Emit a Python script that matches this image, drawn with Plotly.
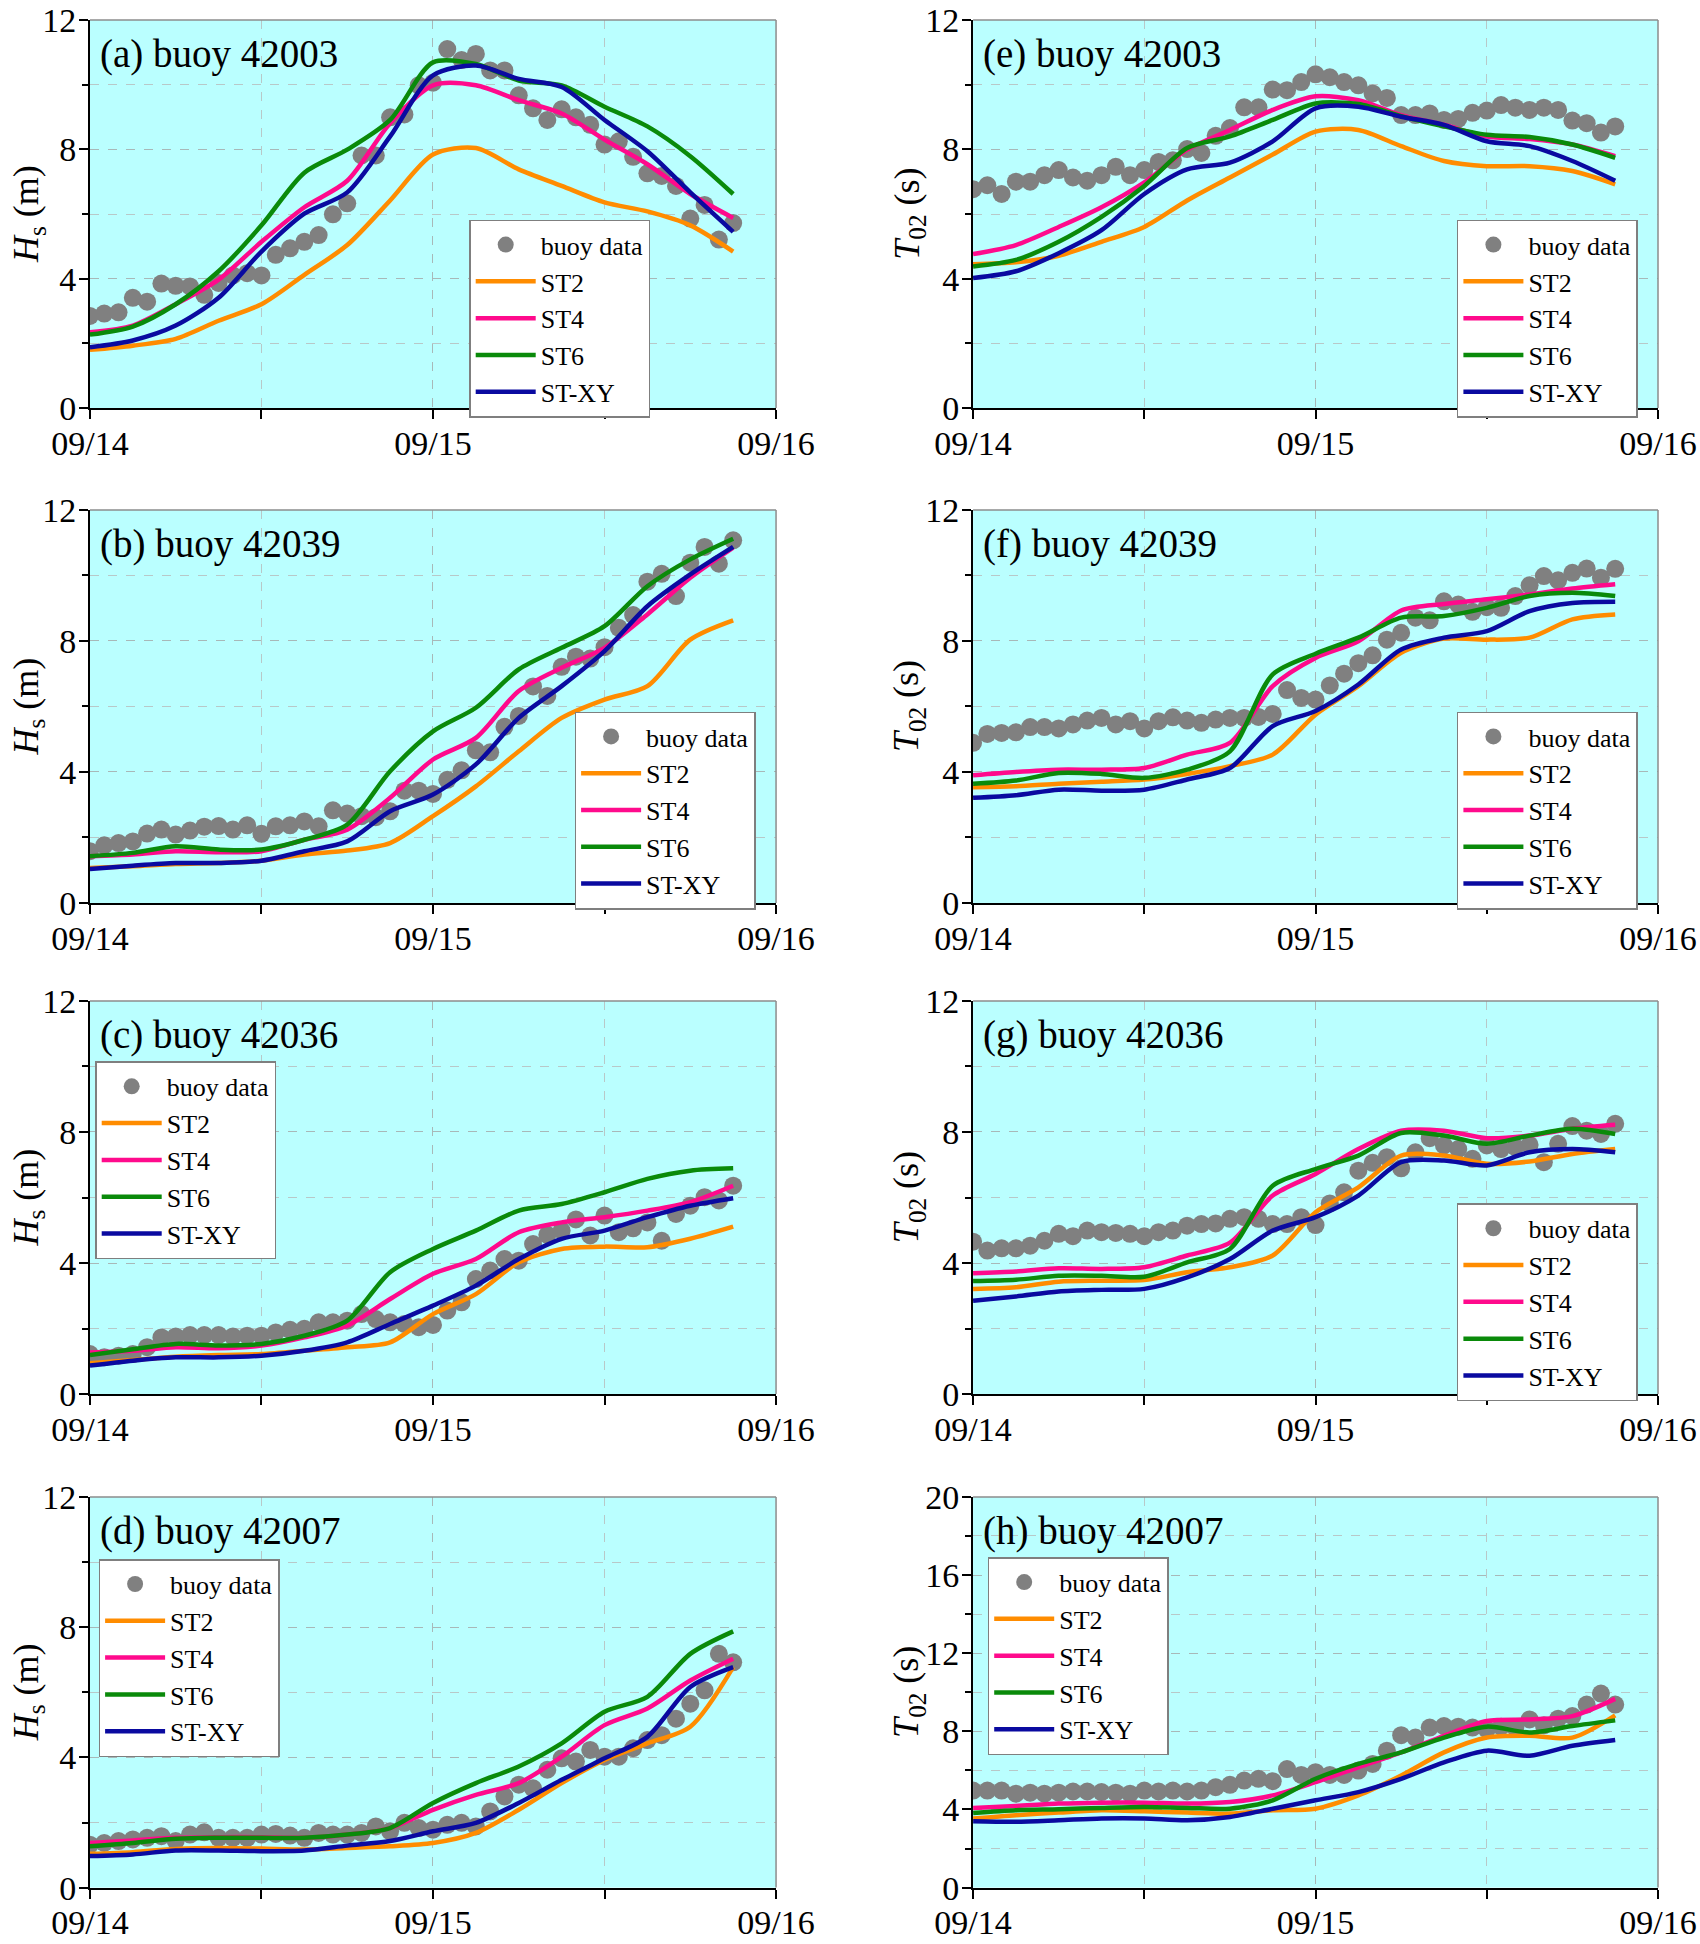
import pandas as pd
import plotly.graph_objects as go
from plotly.subplots import make_subplots

# ---------------- data ----------------
line_hours = [0, 3, 6, 9, 12, 15, 18, 21, 24, 27, 30, 33, 36, 39, 42, 45]
buoy_hours = list(range(46))

# (a) buoy 42003 Hs
a_buoy = [2.85, 2.92, 2.96, 3.41, 3.29, 3.85, 3.78, 3.76, 3.50, 3.87, 4.10, 4.17, 4.10, 4.74, 4.94, 5.14,
          5.35, 5.99, 6.33, 7.81, 7.81, 8.99, 9.08, 9.98, 10.06, 11.10, 10.76, 10.95, 10.44, 10.44, 9.67,
          9.27, 8.91, 9.24, 8.99, 8.76, 8.15, 8.25, 7.77, 7.26, 7.18, 6.87, 5.86, 6.28, 5.21, 5.72]
a_st2 = [1.80, 1.93, 2.14, 2.70, 3.21, 4.12, 5.04, 6.42, 7.84, 8.04, 7.38, 6.87, 6.36, 6.08, 5.65, 4.84]
a_st4 = [2.34, 2.55, 3.21, 3.97, 5.14, 6.21, 7.03, 8.81, 9.98, 9.98, 9.52, 9.11, 8.30, 7.54, 6.62, 5.88]
a_st6 = [2.27, 2.52, 3.21, 4.23, 5.65, 7.28, 7.99, 8.91, 10.69, 10.64, 10.13, 9.98, 9.32, 8.71, 7.79, 6.62]
a_stxy = [1.88, 2.09, 2.55, 3.41, 4.84, 6.01, 6.67, 8.40, 10.29, 10.59, 10.18, 9.93, 8.91, 7.94, 6.67, 5.45]

# (b) buoy 42039 Hs
b_buoy = [1.58, 1.76, 1.83, 1.88, 2.12, 2.24, 2.09, 2.21, 2.33, 2.35, 2.24, 2.37, 2.11, 2.34, 2.37, 2.49,
          2.34, 2.83, 2.73, 2.65, 2.62, 2.80, 3.43, 3.43, 3.33, 3.76, 4.05, 4.66, 4.60, 5.38, 5.71, 6.61,
          6.32, 7.21, 7.52, 7.46, 7.81, 8.40, 8.79, 9.81, 10.05, 9.37, 10.39, 10.87, 10.36, 11.07]
b_st2 = [1.07, 1.12, 1.19, 1.22, 1.29, 1.48, 1.60, 1.83, 2.65, 3.56, 4.63, 5.65, 6.21, 6.62, 8.04, 8.63]
b_st4 = [1.43, 1.48, 1.58, 1.55, 1.58, 1.93, 2.24, 3.21, 4.38, 5.04, 6.47, 7.18, 7.79, 8.81, 9.93, 10.85]
b_st6 = [1.43, 1.53, 1.73, 1.63, 1.63, 1.93, 2.39, 4.02, 5.24, 5.96, 7.13, 7.79, 8.45, 9.67, 10.49, 11.12]
b_stxy = [1.04, 1.14, 1.22, 1.22, 1.29, 1.58, 1.88, 2.80, 3.31, 4.23, 5.65, 6.62, 7.69, 9.06, 10.03, 10.87]

# (c) buoy 42036 Hs
c_buoy = [1.22, 1.12, 1.17, 1.22, 1.43, 1.73, 1.76, 1.80, 1.80, 1.80, 1.76, 1.78, 1.78, 1.88, 1.96, 1.99,
          2.19, 2.19, 2.24, 2.44, 2.29, 2.19, 2.14, 2.04, 2.11, 2.55, 2.80, 3.51, 3.77, 4.12, 4.07, 4.58,
          4.86, 4.99, 5.33, 4.84, 5.45, 4.94, 5.06, 5.24, 4.68, 5.50, 5.75, 6.01, 5.91, 6.36]
c_st2 = [0.94, 1.04, 1.14, 1.19, 1.22, 1.32, 1.43, 1.58, 2.44, 3.05, 4.02, 4.43, 4.50, 4.48, 4.74, 5.11]
c_st4 = [1.27, 1.32, 1.43, 1.40, 1.48, 1.73, 2.09, 2.90, 3.67, 4.12, 4.94, 5.24, 5.40, 5.60, 5.86, 6.36]
c_st6 = [1.19, 1.37, 1.53, 1.48, 1.53, 1.78, 2.24, 3.72, 4.43, 4.99, 5.60, 5.80, 6.16, 6.57, 6.82, 6.89]
c_stxy = [0.87, 1.02, 1.12, 1.12, 1.17, 1.32, 1.58, 2.14, 2.70, 3.31, 4.12, 4.74, 4.99, 5.40, 5.75, 5.98]

# (d) buoy 42007 Hs
d_buoy = [1.32, 1.37, 1.43, 1.48, 1.53, 1.58, 1.43, 1.63, 1.70, 1.53, 1.53, 1.53, 1.63, 1.65, 1.60, 1.53,
          1.68, 1.63, 1.63, 1.68, 1.88, 1.73, 1.99, 1.83, 1.78, 1.93, 1.99, 1.88, 2.34, 2.80, 3.16, 3.05,
          3.62, 3.97, 3.87, 4.23, 4.02, 4.02, 4.28, 4.53, 4.68, 5.19, 5.65, 6.06, 7.18, 6.92]
d_st2 = [1.04, 1.09, 1.19, 1.22, 1.20, 1.17, 1.22, 1.27, 1.37, 1.68, 2.39, 3.21, 3.92, 4.43, 4.94, 6.77]
d_st4 = [1.37, 1.45, 1.53, 1.55, 1.55, 1.53, 1.63, 1.83, 2.39, 2.85, 3.21, 4.02, 4.99, 5.50, 6.36, 7.03]
d_st6 = [1.27, 1.37, 1.50, 1.53, 1.53, 1.53, 1.63, 1.83, 2.60, 3.21, 3.72, 4.43, 5.40, 5.86, 7.18, 7.87]
d_stxy = [0.97, 1.02, 1.14, 1.14, 1.12, 1.14, 1.29, 1.43, 1.73, 1.99, 2.60, 3.31, 3.97, 4.63, 6.16, 6.77]

# (e) buoy 42003 T02
e_buoy = [6.77, 6.89, 6.62, 7.00, 7.00, 7.20, 7.36, 7.13, 7.03, 7.20, 7.46, 7.20, 7.36, 7.61, 7.66, 8.01,
          7.89, 8.42, 8.66, 9.30, 9.30, 9.85, 9.83, 10.08, 10.32, 10.23, 10.08, 9.98, 9.73, 9.59, 9.06,
          9.06, 9.11, 8.91, 8.94, 9.13, 9.20, 9.37, 9.29, 9.22, 9.29, 9.22, 8.89, 8.81, 8.52, 8.71]
e_st2 = [4.45, 4.51, 4.71, 5.14, 5.60, 6.42, 7.13, 7.84, 8.55, 8.60, 8.10, 7.64, 7.48, 7.48, 7.33, 6.92]
e_st4 = [4.76, 5.04, 5.60, 6.21, 6.98, 7.99, 8.60, 9.22, 9.64, 9.52, 9.06, 8.76, 8.40, 8.32, 8.15, 7.79]
e_st6 = [4.38, 4.58, 5.14, 5.91, 6.87, 8.04, 8.40, 8.91, 9.42, 9.40, 9.03, 8.71, 8.45, 8.38, 8.15, 7.74]
e_stxy = [4.02, 4.23, 4.79, 5.50, 6.62, 7.38, 7.59, 8.25, 9.27, 9.32, 9.01, 8.76, 8.25, 8.10, 7.64, 7.03]

# (f) buoy 42039 T02
f_buoy = [4.89, 5.16, 5.19, 5.21, 5.37, 5.37, 5.33, 5.45, 5.57, 5.65, 5.45, 5.55, 5.33, 5.55, 5.67, 5.57,
          5.50, 5.60, 5.65, 5.65, 5.68, 5.77, 6.50, 6.26, 6.21, 6.64, 7.00, 7.32, 7.56, 8.04, 8.25, 8.71,
          8.63, 9.21, 9.11, 8.89, 9.03, 9.01, 9.37, 9.70, 9.98, 9.85, 10.08, 10.21, 9.93, 10.20]
f_st2 = [3.53, 3.56, 3.64, 3.70, 3.77, 3.94, 4.18, 4.53, 5.75, 6.62, 7.64, 8.07, 8.04, 8.10, 8.66, 8.81]
f_st4 = [3.90, 4.00, 4.07, 4.07, 4.12, 4.53, 4.89, 6.62, 7.48, 7.99, 8.93, 9.13, 9.27, 9.42, 9.60, 9.73]
f_st6 = [3.64, 3.74, 3.97, 3.94, 3.82, 4.07, 4.63, 6.98, 7.61, 8.10, 8.71, 8.76, 9.01, 9.37, 9.47, 9.37]
f_stxy = [3.21, 3.29, 3.46, 3.43, 3.46, 3.77, 4.12, 5.40, 5.86, 6.67, 7.74, 8.10, 8.30, 8.91, 9.16, 9.20]

# (g) buoy 42036 T02
g_buoy = [4.65, 4.38, 4.45, 4.45, 4.53, 4.68, 4.89, 4.82, 4.99, 4.94, 4.92, 4.89, 4.82, 4.94, 4.99, 5.14,
          5.19, 5.21, 5.35, 5.40, 5.35, 5.19, 5.19, 5.40, 5.16, 5.82, 6.16, 6.82, 7.06, 7.23, 6.89, 7.38,
          7.81, 7.59, 7.48, 7.18, 7.59, 7.48, 7.54, 7.61, 7.08, 7.64, 8.18, 8.04, 7.94, 8.25]
g_st2 = [3.21, 3.26, 3.43, 3.46, 3.48, 3.72, 3.87, 4.23, 5.55, 6.31, 7.28, 7.28, 7.03, 7.10, 7.33, 7.48]
g_st4 = [3.69, 3.74, 3.84, 3.82, 3.87, 4.23, 4.62, 6.06, 6.72, 7.48, 8.04, 8.04, 7.81, 7.89, 8.10, 8.22]
g_st6 = [3.45, 3.49, 3.61, 3.61, 3.58, 4.02, 4.43, 6.36, 6.87, 7.28, 7.97, 7.89, 7.64, 7.89, 8.10, 7.94]
g_stxy = [2.85, 2.98, 3.13, 3.18, 3.21, 3.56, 4.12, 4.99, 5.40, 6.06, 7.08, 7.13, 6.98, 7.38, 7.48, 7.38]

# (h) buoy 42007 T02
h_buoy = [4.97, 4.97, 4.97, 4.81, 4.86, 4.81, 4.86, 4.92, 4.92, 4.89, 4.86, 4.81, 4.97, 4.92, 4.97, 4.92,
          4.97, 5.14, 5.26, 5.48, 5.57, 5.45, 6.07, 5.77, 5.91, 5.77, 5.77, 5.99, 6.33, 7.01, 7.80, 7.68,
          8.19, 8.27, 8.24, 8.19, 8.10, 8.24, 8.19, 8.61, 8.31, 8.65, 8.78, 9.37, 9.93, 9.37]
h_st2 = [3.54, 3.71, 3.84, 3.96, 3.91, 3.84, 3.79, 3.96, 4.04, 4.72, 5.74, 6.92, 7.68, 7.77, 7.68, 8.82]
h_st4 = [4.08, 4.18, 4.30, 4.35, 4.35, 4.30, 4.38, 4.72, 5.40, 6.16, 6.92, 7.77, 8.53, 8.61, 8.78, 9.66]
h_st6 = [3.82, 3.96, 4.01, 4.08, 4.13, 4.08, 4.04, 4.47, 5.57, 6.33, 6.92, 7.68, 8.24, 7.94, 8.27, 8.56]
h_stxy = [3.40, 3.37, 3.45, 3.54, 3.54, 3.45, 3.62, 4.04, 4.47, 4.89, 5.57, 6.41, 7.01, 6.75, 7.26, 7.56]

panel_titles = ["(a) buoy 42003", "(b) buoy 42039", "(c) buoy 42036", "(d) buoy 42007",
                "(e) buoy 42003", "(f) buoy 42039", "(g) buoy 42036", "(h) buoy 42007"]
series_names = ["buoy data", "ST2", "ST4", "ST6", "ST-XY"]
x_tick_range = ["2020-09-14", "2020-09-16"]

# ---------------- figure ----------------
FONT = "Liberation Serif, Times New Roman, serif"
COLORS = {"ST2": "#FF8C00", "ST4": "#FF0A8C", "ST6": "#0A8A0A", "ST-XY": "#0A0AA0"}
BG = "#BAFFFF"

base = pd.Timestamp("2020-09-14")
t_line = base + pd.to_timedelta(line_hours, unit="h")
t_buoy = base + pd.to_timedelta(buoy_hours, unit="h")

panels = [
    # (row, col, buoy, st2, st4, st6, stxy, ymax, ytitle, legend pos)
    (1, 1, a_buoy, a_st2, a_st4, a_st6, a_stxy, 12, "Hs", (0.276, 0.887)),
    (2, 1, b_buoy, b_st2, b_st4, b_st6, b_stxy, 12, "Hs", (0.338, 0.634)),
    (3, 1, c_buoy, c_st2, c_st4, c_st6, c_stxy, 12, "Hs", (0.056, 0.454)),
    (4, 1, d_buoy, d_st2, d_st4, d_st6, d_stxy, 12, "Hs", (0.058, 0.198)),
    (1, 2, e_buoy, e_st2, e_st4, e_st6, e_stxy, 12, "T02", (0.857, 0.887)),
    (2, 2, f_buoy, f_st2, f_st4, f_st6, f_stxy, 12, "T02", (0.857, 0.634)),
    (3, 2, g_buoy, g_st2, g_st4, g_st6, g_stxy, 12, "T02", (0.857, 0.381)),
    (4, 2, h_buoy, h_st2, h_st4, h_st6, h_stxy, 20, "T02", (0.581, 0.199)),
]

fig = make_subplots(rows=4, cols=2)

x_domains = {1: [0.0529, 0.4565], 2: [0.5724, 0.9753]}
y_domains = {1: [0.7901, 0.9897], 2: [0.5355, 0.7377], 3: [0.2829, 0.4851], 4: [0.0290, 0.2300]}
ytitle_x = {1: 0.0165, 2: 0.5345}

layout_upd = {}
for i, (row, col, buoy, s2, s4, s6, sxy, ymax, ytit, lpos) in enumerate(panels):
    leg = "legend" if i == 0 else f"legend{i + 1}"
    fig.add_trace(go.Scatter(x=t_buoy, y=buoy, mode="markers", name=series_names[0],
                             marker=dict(color="#808080", size=18), legend=leg), row=row, col=col)
    for name, vals in zip(series_names[1:], [s2, s4, s6, sxy]):
        fig.add_trace(go.Scatter(x=t_line, y=vals, mode="lines", name=name,
                                 line=dict(color=COLORS[name], width=4.5, shape="spline", smoothing=0.8),
                                 legend=leg), row=row, col=col)
    layout_upd[leg] = dict(x=lpos[0], y=lpos[1], xanchor="left", yanchor="top",
                           bgcolor="white", bordercolor="#7F7F7F", borderwidth=1.5,
                           font=dict(family=FONT, size=26, color="black"),
                           itemwidth=60, tracegroupgap=0)

    axn = (row - 1) * 2 + col
    xa = "xaxis" if axn == 1 else f"xaxis{axn}"
    ya = "yaxis" if axn == 1 else f"yaxis{axn}"
    xref = "x" if axn == 1 else f"x{axn}"
    yref = "y" if axn == 1 else f"y{axn}"
    if ytit == "Hs":
        ytext = "<i>H</i><sub>s</sub> (m)"
    else:
        ytext = "<i>T</i><sub>02</sub> (s)"
    layout_upd[xa] = dict(
        domain=x_domains[col], range=x_tick_range, type="date", automargin=False,
        tickformat="%m/%d", dtick=86400000, tick0="2020-09-14", ticklabeloverflow="allow",
        ticks="outside", ticklen=9, tickwidth=2, tickcolor="black", ticklabelstandoff=-5,
        showline=True, linecolor="black", linewidth=2,
        showgrid=True, gridcolor="#A8B8B8", griddash="dash", gridwidth=1,
        minor=dict(dtick=43200000, ticks="outside", ticklen=9, tickwidth=2, tickcolor="black",
                   showgrid=True, gridcolor="#B8C8C8", griddash="dash", gridwidth=1),
        tickfont=dict(family=FONT, size=34, color="black"), zeroline=False,
    )
    layout_upd[ya] = dict(
        domain=y_domains[row], range=[0, ymax], dtick=4, tick0=0, automargin=False,
        ticklabeloverflow="allow",
        ticks="outside", ticklen=9, tickwidth=2, tickcolor="black", ticklabelstandoff=-4,
        showline=True, linecolor="black", linewidth=2,
        showgrid=True, gridcolor="#A8B8B8", griddash="dash", gridwidth=1,
        minor=dict(dtick=2, ticks="outside", ticklen=6, tickwidth=2, tickcolor="black",
                   showgrid=True, gridcolor="#B8C8C8", griddash="dash", gridwidth=1),
        tickfont=dict(family=FONT, size=34, color="black"), zeroline=False,
    )
    # y-axis title
    yd = y_domains[row]
    fig.add_annotation(text=ytext, xref="paper", yref="paper", x=ytitle_x[col],
                       y=(yd[0] + yd[1]) / 2, xanchor="center", yanchor="middle",
                       textangle=-90, showarrow=False,
                       font=dict(family=FONT, size=36, color="black"))
    # panel label
    fig.add_annotation(text=panel_titles[i], xref=f"{xref} domain", yref=f"{yref} domain",
                       x=0.012, y=0.975, xanchor="left", yanchor="top", showarrow=False,
                       font=dict(family=FONT, size=39, color="black"))
    # grey top/right frame
    fig.add_shape(type="line", xref=f"{xref} domain", yref=f"{yref} domain",
                  x0=0, x1=1, y0=1, y1=1, line=dict(color="#8C8C8C", width=1.5))
    fig.add_shape(type="line", xref=f"{xref} domain", yref=f"{yref} domain",
                  x0=1, x1=1, y0=0, y1=1, line=dict(color="#8C8C8C", width=1.5))

fig.update_layout(**layout_upd)
fig.update_layout(width=1700, height=1944, margin=dict(l=0, r=0, t=0, b=0),
                  paper_bgcolor="white", plot_bgcolor=BG, showlegend=True,
                  font=dict(family=FONT, color="black"))

fig.write_html("out.html", config={"displayModeBar": False},
               post_script="document.body.style.margin='0';document.body.style.padding='0';")
